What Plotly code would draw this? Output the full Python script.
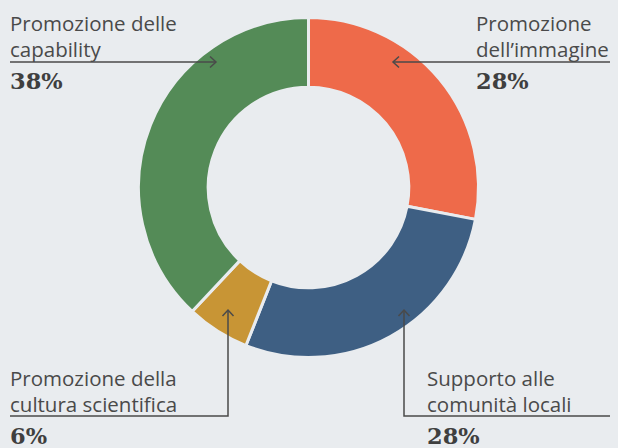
"""
Donut chart: distribution of activities (Italian labels).
"""
import plotly.graph_objects as go

labels = [
    "Promozione dell’immagine",
    "Supporto alle comunità locali",
    "Promozione della cultura scientifica",
    "Promozione delle capability",
]
values = [28, 28, 6, 38]
colors = ["#ee6a4a", "#3e5f83", "#c89535", "#548b57"]

BG = "#e9ecef"
INK = "#4a4a4a"
W, H = 618, 448

fig = go.Figure()

# ── Donut ──────────────────────────────────────────────────────────────────
cx, cy, r = 308.5, 187.5, 170
fig.add_trace(go.Pie(
    labels=labels,
    values=values,
    sort=False,
    direction="clockwise",
    rotation=0,
    hole=0.59,
    marker={"colors": colors, "line": {"color": BG, "width": 3}},
    textinfo="none",
    hoverinfo="label+percent",
    showlegend=False,
    domain={"x": [(cx - r) / W, (cx + r) / W],
            "y": [(H - cy - r) / H, (H - cy + r) / H]},
))

# invisible pixel-space axes for the callouts
fig.add_trace(go.Scatter(x=[0, W], y=[0, H], mode="markers",
                         marker={"opacity": 0}, hoverinfo="skip", showlegend=False))

line = {"color": INK, "width": 1.5}
paths = [
    "M 10 62 L 216 62", "M 210 56.5 L 216 62 L 210 67.5",
    "M 610 62 L 393 62", "M 399 56.5 L 393 62 L 399 67.5",
    "M 10 416 L 228 416 L 228 310", "M 222.5 316 L 228 310 L 233.5 316",
    "M 610 416 L 404 416 L 404 310", "M 398.5 316 L 404 310 L 409.5 316",
]
for p in paths:
    fig.add_shape(type="path", path=p, xref="x", yref="y", line=line)

sans = {"family": "Open Sans, sans-serif", "size": 20.5, "color": INK}
serif = {"family": "DejaVu Serif, serif", "size": 22.5, "color": "#3f3f3f"}

callouts = [
    (8, ["Promozione delle", "capability"], "38%"),
    (474, ["Promozione", "dell’immagine"], "28%"),
    (8, ["Promozione della", "cultura scientifica"], "6%"),
    (425, ["Supporto alle", "comunità locali"], "28%"),
]
baselines = [29, 29, 384, 384]
for (x, lines, pct), base in zip(callouts, baselines):
    for i, t in enumerate(lines):
        fig.add_annotation(x=x, y=base + 26 * i - 6.5, text=t, xref="x", yref="y",
                           xanchor="left", yanchor="middle", showarrow=False,
                           font=sans)
    fig.add_annotation(x=x, y=base + 60 - 8, text=f"<b>{pct}</b>", xref="x", yref="y",
                       xanchor="left", yanchor="middle", showarrow=False, font=serif)

fig.update_xaxes(range=[0, W], visible=False, domain=[0, 1], fixedrange=True)
fig.update_yaxes(range=[H, 0], visible=False, domain=[0, 1], fixedrange=True)
fig.update_layout(
    width=W, height=H,
    margin={"t": 0, "b": 0, "l": 0, "r": 0},
    paper_bgcolor=BG,
    plot_bgcolor="rgba(0,0,0,0)",
)
fig.write_html(
    "out.html",
    config={"displayModeBar": False},
    post_script=f"document.body.style.margin='0';document.body.style.background='{BG}';",
)
